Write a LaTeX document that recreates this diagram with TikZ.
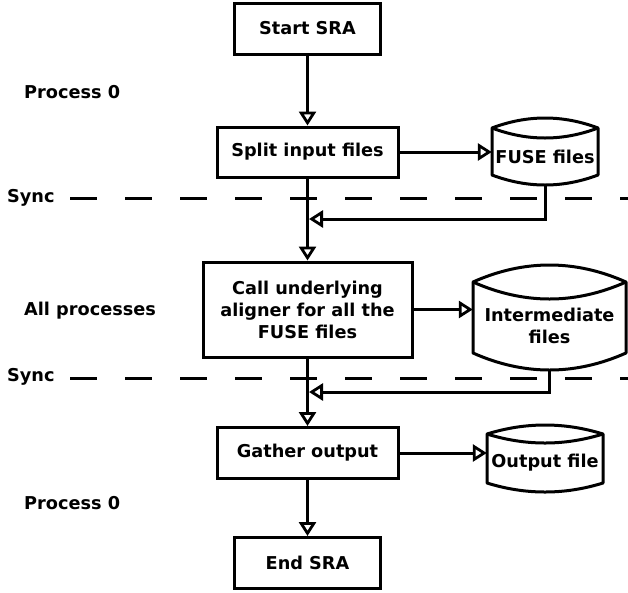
\documentclass[tikz,border=0pt]{standalone}
\usepackage{fontspec}
\setmainfont{DejaVu Sans}
\usetikzlibrary{arrows.meta}
\tikzset{
  lw/.style={line width=3pt},
  txt/.style={font=\bfseries\fontsize{17.7}{22}\selectfont},
  stepbox/.style={draw, lw, rectangle, inner sep=0pt, align=center, txt},
  cyltext/.style={inner sep=0pt, align=center, txt},
  lbl/.style={anchor=west, inner sep=0pt, txt},
  flow/.style={lw, -{Triangle[open, length=14pt, width=17pt, line width=2.8pt]}},
  syncline/.style={lw, dash pattern=on 27pt off 28pt},
}
% cylinder: name, xl, xr, ypeak, h, ybotcorner, text
\newcommand\mycyl[7]{%
  \pgfmathsetmacro\cxm{(#2+#3)/2}%
  \pgfmathsetmacro\cw{(#3-#2)/3}%
  \pgfmathsetmacro\yc{#4+#5}%
  \pgfmathsetmacro\yi{#4+2*#5}%
  \pgfmathsetmacro\ycu{#4-#5/3}%
  \pgfmathsetmacro\yci{\yc+4*#5/3}%
  \pgfmathsetmacro\ybp{#6+#5}%
  \pgfmathsetmacro\ycb{#6+4*#5/3}%
  \draw[lw, line join=round]
    (#2,\yc) .. controls (#2+\cw,\ycu) and (#3-\cw,\ycu) .. (#3,\yc)
    -- (#3,#6) .. controls (#3-\cw,\ycb) and (#2+\cw,\ycb) .. (#2,#6) -- cycle;
  \draw[lw] (#2,\yc) .. controls (#2+\cw,\yci) and (#3-\cw,\yci) .. (#3,\yc);
  \node[cyltext, minimum width={#3-#2}, minimum height={#6-\yi}] (#1) at (\cxm,{(\yi+#6)/2}) {#7};
  \coordinate (#1-bot) at (\cxm,\ybp);
}
\begin{document}
\begin{tikzpicture}[x=1pt, y=-1pt]
\useasboundingbox (0,0) rectangle (628,592);

\node[stepbox, minimum width=146pt, minimum height=51pt] (start) at (307.5,28.5) {Start SRA};
\node[stepbox, minimum width=181pt, minimum height=50pt] (split) at (307.5,152) {Split input files};
\node[stepbox, minimum width=209pt, minimum height=95pt] (call) at (307.5,309.5) {Call underlying\\aligner for all the\\FUSE files};
\node[stepbox, minimum width=181pt, minimum height=51pt] (gather) at (307.5,453) {Gather output};
\node[stepbox, minimum width=146pt, minimum height=51pt] (end) at (307.5,563) {End SRA};

\mycyl{fuse}{492}{598}{118}{10}{175}{FUSE files}
\mycyl{inter}{473}{626}{265}{17}{353}{Intermediate\\files}
\mycyl{outf}{487}{603}{425}{9}{483}{Output file}

\node[lbl] (p0a) at (24,92) {Process 0};
\node[lbl] (allp) at (24,311) {All processes};
\node[lbl] (p0b) at (24,503) {Process 0};
\node[lbl] (s1) at (7,198) {Sync};
\node[lbl] (s2) at (7,377) {Sync};

\coordinate (s1e) at (628,198);
\coordinate (s2e) at (628,378);
\draw[syncline] (70,198) -- (s1e);
\draw[syncline] (70,378) -- (s2e);

\draw[flow] (start) -- (split);
\draw[flow] (split) -- (call);
\draw[flow] (call) -- (gather);
\draw[flow] (gather) -- (end);

\draw[flow] (split.east) -- (fuse.west |- split.east);
\draw[flow] (call.east) -- (inter.west |- call.east);
\draw[flow] (gather.east) -- (outf.west |- gather.east);

\coordinate (r1) at (309,219);
\coordinate (r2) at (309,392);
\draw[flow] (fuse-bot) |- (r1);
\draw[flow] (inter-bot) |- (r2);
\end{tikzpicture}
\end{document}
